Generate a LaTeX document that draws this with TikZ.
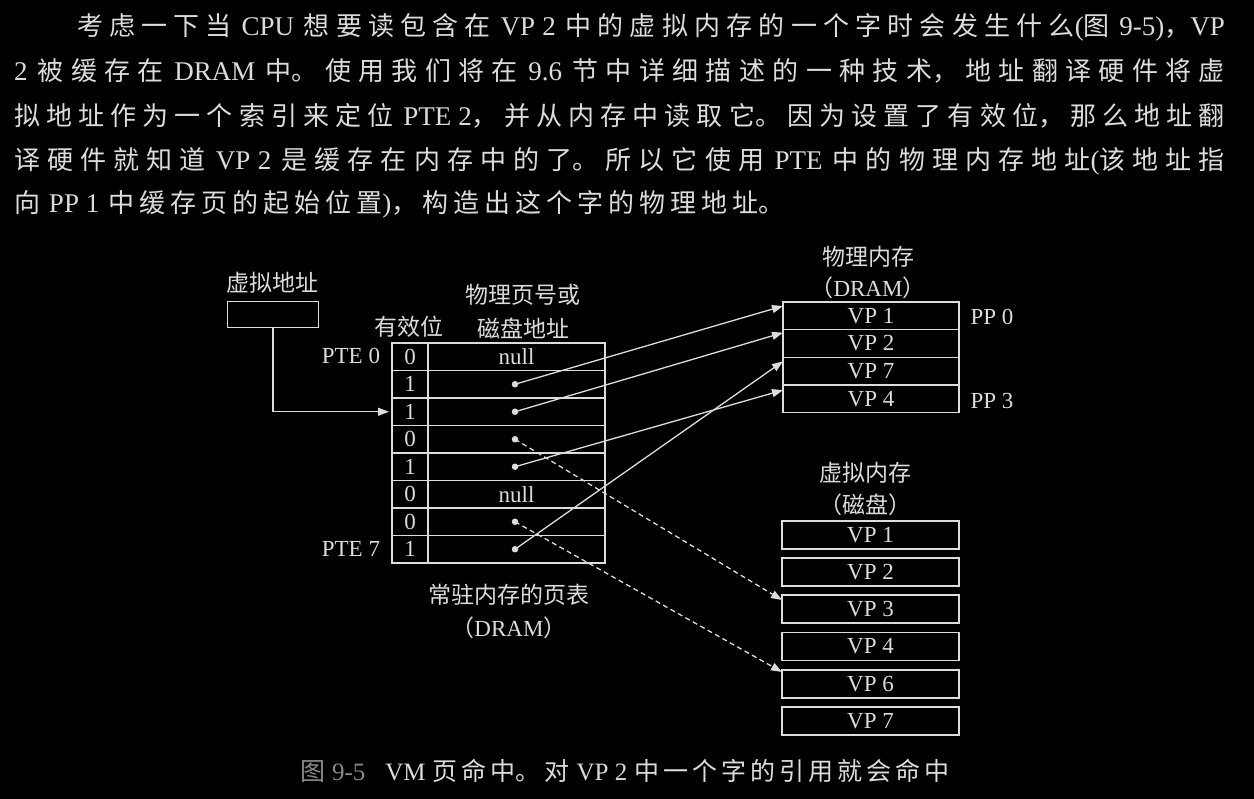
\documentclass[tikz,border=0pt]{standalone}
\usepackage{fontspec}
\setmainfont{Noto Sans CJK SC}
\newfontfamily\lat{Liberation Serif}
\usetikzlibrary{arrows.meta}
\definecolor{ink}{HTML}{DCDCDC}
\definecolor{dimink}{HTML}{8A8A8A}
\XeTeXlinebreaklocale "zh"
\XeTeXlinebreakskip=0pt\relax
% type settings for the body text and the caption
\newcommand\bodytype{\fontsize{26}{30}\selectfont\XeTeXlinebreakskip=5pt plus 10pt minus 2pt\relax}
\newcommand\captype{\fontsize{25}{28}\selectfont\XeTeXlinebreakskip=4pt plus 2pt minus 1pt\relax}
% space between a Chinese and a Latin run
\newcommand\gap{\hskip 9pt plus 6pt minus 1pt\relax}
% one justified line of body text, set as its own paragraph
\newcommand\fullline[2]{\parbox[b]{#1}{\bodytype\parindent=0pt\tolerance=10000\parfillskip=0pt\relax #2}}
% a ragged line (last line of the body text)
\newcommand\lastline[2]{\parbox[b]{#1}{\bodytype\parindent=0pt\tolerance=10000\relax #2}}
% the caption line
\newcommand\capline[2]{\parbox[b]{#1}{\captype\parindent=0pt\tolerance=10000\relax #2}}
% Latin run inside the body text
\newcommand\pl[1]{{\lat\fontsize{27}{30}\selectfont #1}}
% Latin run inside the caption
\newcommand\cl[1]{{\lat\fontsize{25}{28}\selectfont #1}}
\begin{document}
\begin{tikzpicture}[x=1pt,y=-1pt,
  every node/.style={text=ink, inner sep=0pt, outer sep=0pt},
  para/.style={anchor=base west},
  captext/.style={anchor=base west},
  lbl/.style={font=\fontsize{23}{26}\selectfont},
  latl/.style={font=\lat\fontsize{23}{26}\selectfont},
  cell/.style={draw=ink, line width=1.3pt, minimum height=27.5pt, font=\lat\fontsize{23}{26}\selectfont},
  vcell/.style={cell, minimum width=36pt},
  acell/.style={cell, minimum width=177pt},
  mem/.style={draw=ink, line width=1.3pt, minimum width=176pt, minimum height=27.7pt, font=\lat\fontsize{23}{26}\selectfont},
  disk/.style={draw=ink, line width=1.3pt, minimum width=177pt, minimum height=28pt, font=\lat\fontsize{23}{26}\selectfont},
  addrbox/.style={draw=ink, line width=1.3pt, minimum width=91pt, minimum height=26pt},
  dot/.style={circle, fill=ink, minimum size=6.5pt},
  conn/.style={draw=ink, line width=1.3pt, -{Triangle[length=11pt,width=8pt]}},
  dconn/.style={conn, dash pattern=on 5pt off 3.5pt}
]
\fill[black] (0,0) rectangle (1254,799);
\useasboundingbox (0,0) rectangle (1254,799);

% ---- body text ----
\node[para] (p1) at (77,36) {\fullline{1148pt}{考虑一下当\gap\pl{CPU}\gap 想要读包含在\gap\pl{VP 2}\gap 中的虚拟内存的一个字时会发生什么\pl{(}图\gap\pl{9-5)}，\pl{VP}}};
\node[para] (p2) at (14,81) {\fullline{1211pt}{\pl{2}\gap 被缓存在\gap\pl{DRAM}\gap 中。使用我们将在\gap\pl{9.6}\gap 节中详细描述的一种技术，地址翻译硬件将虚}};
\node[para] (p3) at (14,126) {\fullline{1211pt}{拟地址作为一个索引来定位\gap\pl{PTE 2}，并从内存中读取它。因为设置了有效位，那么地址翻}};
\node[para] (p4) at (14,170) {\fullline{1211pt}{译硬件就知道\gap\pl{VP 2}\gap 是缓存在内存中的了。所以它使用\gap\pl{PTE}\gap 中的物理内存地址\pl{(}该地址指}};
\node[para] (p5) at (14,213) {\lastline{1211pt}{向\gap\pl{PP 1}\gap 中缓存页的起始位置\pl{)}，构造出这个字的物理地址。}};

% ---- virtual address ----
\node[lbl] (valbl) at (272,283) {虚拟地址};
\node[addrbox] (va) at (273,314.5) {};

% ---- page table ----
\node[lbl] (validlbl) at (409,327) {有效位};
\node[lbl] (ppnlbl1) at (523,295) {物理页号或};
\node[lbl] (ppnlbl2) at (523,328) {磁盘地址};

\node[vcell] (v0) at (410,356.75) {0};
\node[vcell] (v1) at (410,384.25) {1};
\node[vcell] (v2) at (410,411.75) {1};
\node[vcell] (v3) at (410,439.25) {0};
\node[vcell] (v4) at (410,466.75) {1};
\node[vcell] (v5) at (410,494.25) {0};
\node[vcell] (v6) at (410,521.75) {0};
\node[vcell] (v7) at (410,549.25) {1};

\node[acell] (a0) at (516.5,356.75) {null};
\node[acell] (a1) at (516.5,384.25) {};
\node[acell] (a2) at (516.5,411.75) {};
\node[acell] (a3) at (516.5,439.25) {};
\node[acell] (a4) at (516.5,466.75) {};
\node[acell] (a5) at (516.5,494.25) {null};
\node[acell] (a6) at (516.5,521.75) {};
\node[acell] (a7) at (516.5,549.25) {};

\node[dot] (d1) at (515,384.25) {};
\node[dot] (d2) at (515,411.75) {};
\node[dot] (d3) at (515,439.25) {};
\node[dot] (d4) at (515,466.75) {};
\node[dot] (d6) at (515,521.75) {};
\node[dot] (d7) at (515,549.25) {};

\node[latl, anchor=east] (pte0) at (380,356) {PTE 0};
\node[latl, anchor=east] (pte7) at (380,549) {PTE 7};

\node[lbl] (ptlbl1) at (509,595) {常驻内存的页表};
\node[lbl] (ptlbl2) at (509,628) {（{\lat DRAM}）};

% ---- physical memory ----
\node[lbl] (pmlbl1) at (868,257) {物理内存};
\node[lbl] (pmlbl2) at (868,288) {（{\lat DRAM}）};
\node[mem] (m0) at (871,315.85) {VP 1};
\node[mem] (m1) at (871,343.55) {VP 2};
\node[mem] (m2) at (871,371.25) {VP 7};
\node[mem] (m3) at (871,398.95) {VP 4};
\node[latl] (pp0) at (992,317) {PP 0};
\node[latl] (pp3) at (992,401) {PP 3};

% ---- virtual memory on disk ----
\node[lbl] (vmlbl1) at (865,473) {虚拟内存};
\node[lbl] (vmlbl2) at (865,505) {（磁盘）};
\node[disk] (k1) at (870.5,535) {VP 1};
\node[disk] (k2) at (870.5,572) {VP 2};
\node[disk] (k3) at (870.5,609) {VP 3};
\node[disk] (k4) at (870.5,646.5) {VP 4};
\node[disk] (k6) at (870.5,684) {VP 6};
\node[disk] (k7) at (870.5,721) {VP 7};

% ---- connectors ----
\draw[conn, shorten >=3pt] (va.south) |- (v2.west);
\draw[conn] (d1.center) -- ([yshift=-4pt]m0.north west);
\draw[conn] (d2.center) -- ([yshift=-3pt]m1.north west);
\draw[conn] (d4.center) -- ([yshift=-5pt]m3.north west);
\draw[conn] (d7.center) -- ([yshift=-4pt]m2.north west);
\draw[dconn] (d3.center) -- ([yshift=-5pt]k3.north west);
\draw[dconn] (d6.center) -- ([yshift=-2pt]k6.north west);

% ---- caption ----
\node[captext] (caption) at (300,780) {\capline{700pt}{{\color{dimink}图\hskip 7pt\cl{9-5}}\hskip 20pt\cl{VM}\hskip 7pt 页命中。对\hskip 7pt\cl{VP 2}\hskip 7pt 中一个字的引用就会命中}};
\end{tikzpicture}
\end{document}
